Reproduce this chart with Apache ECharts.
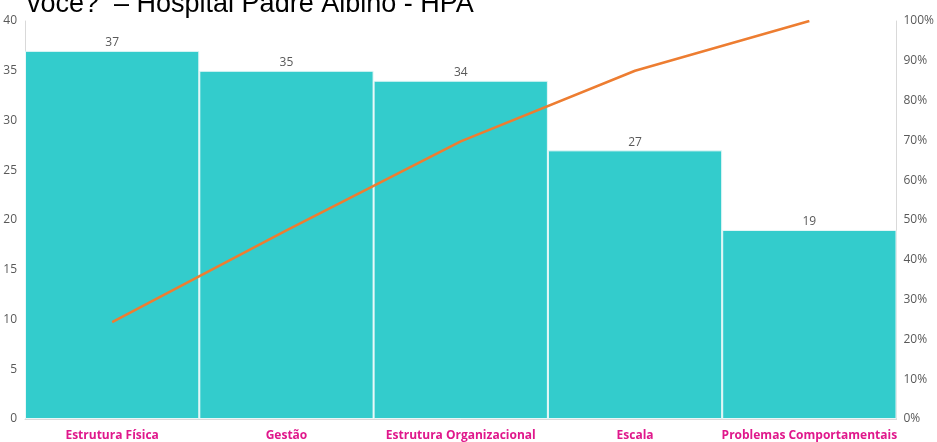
<!DOCTYPE html>
<html>
<head>
<meta charset="utf-8">
<script src="https://cdn.jsdelivr.net/npm/echarts@6/dist/echarts.min.js"></script>
<style>
  html, body { margin: 0; padding: 0; background: #fff; overflow: hidden; }
  #chart { width: 937px; height: 442px; }
</style>
</head>
<body>
<div id="chart"></div>
<script>
// Pareto chart: counts per category with cumulative percentage line
const categories = ['Estrutura Física', 'Gestão', 'Estrutura Organizacional', 'Escala', 'Problemas Comportamentais'];
const counts = [37, 35, 34, 27, 19];
const titleText = 'você?  – Hospital Padre Albino - HPA';

const total = counts.reduce((a, b) => a + b, 0);
let running = 0;
const cumulativePct = counts.map(v => { running += v; return running / total * 100; });

const chart = echarts.init(document.getElementById('chart'));
chart.setOption({
  animation: false,
  title: {
    text: titleText,
    left: 22,
    top: -14,
    textStyle: { fontFamily: 'Liberation Sans, Arial', fontSize: 27, fontWeight: 'normal', color: '#000' }
  },
  grid: { left: 25, right: 39, top: 21, bottom: 20, containLabel: false },
  xAxis: {
    type: 'category',
    data: categories,
    axisTick: { show: false },
    axisLine: { show: true, lineStyle: { color: '#d9d9d9' } },
    axisLabel: {
      interval: 0,
      margin: 11,
      color: '#e0188c',
      fontFamily: 'Open Sans',
      fontWeight: 'bold',
      fontSize: 12
    }
  },
  yAxis: [
    {
      type: 'value', min: 0, max: 40, interval: 5,
      splitLine: { show: false },
      axisLine: { show: true, lineStyle: { color: '#d9d9d9' } },
      axisTick: { show: false },
      axisLabel: { color: '#595959', fontFamily: 'Open Sans', fontSize: 12, margin: 8 }
    },
    {
      type: 'value', min: 0, max: 100, interval: 10,
      splitLine: { show: false },
      axisLine: { show: true, lineStyle: { color: '#d9d9d9' } },
      axisTick: { show: false },
      axisLabel: { color: '#595959', fontFamily: 'Open Sans', fontSize: 12, margin: 7, formatter: '{value}%' }
    }
  ],
  series: [
    {
      type: 'bar',
      data: counts,
      barCategoryGap: 0,
      itemStyle: { color: '#33cccc', borderColor: '#e8f8f8', borderWidth: 1 },
      label: { show: true, position: 'top', distance: 2, color: '#595959', fontFamily: 'Open Sans', fontSize: 12 }
    },
    {
      type: 'line',
      yAxisIndex: 1,
      data: cumulativePct,
      symbol: 'none',
      lineStyle: { color: '#ed7d31', width: 2.5 },
      z: 5
    }
  ]
});
</script>
</body>
</html>
